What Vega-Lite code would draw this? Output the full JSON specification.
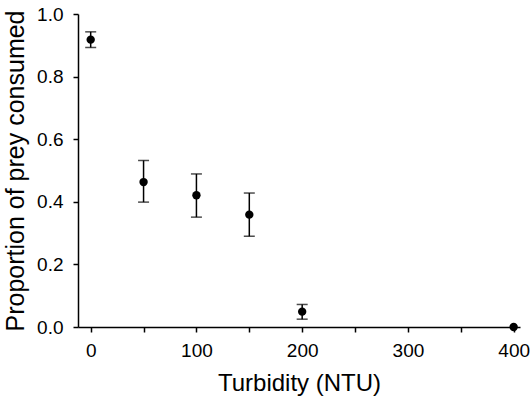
{
  "$schema": "https://vega.github.io/schema/vega-lite/v6.json",
  "autosize": "none",
  "width": 442,
  "height": 313,
  "padding": {"left": 78, "top": 14, "right": 10, "bottom": 78},
  "background": "white",
  "config": {
    "view": {"stroke": null},
    "font": "Liberation Sans",
    "axis": {
      "grid": false,
      "domainColor": "black",
      "domainWidth": 1.5,
      "tickColor": "black",
      "tickWidth": 1.5,
      "tickSize": 5,
      "labelColor": "black",
      "titleColor": "black",
      "labelFont": "Liberation Sans",
      "titleFont": "Liberation Sans",
      "labelFontSize": 19,
      "titleFontSize": 25,
      "titleFontWeight": "normal"
    }
  },
  "data": {
    "values": [
      {"turbidity": 0, "prop": 0.918, "lo": 0.893, "hi": 0.943},
      {"turbidity": 50, "prop": 0.463, "lo": 0.399, "hi": 0.532},
      {"turbidity": 100, "prop": 0.421, "lo": 0.351, "hi": 0.489},
      {"turbidity": 150, "prop": 0.359, "lo": 0.29, "hi": 0.428},
      {"turbidity": 200, "prop": 0.049, "lo": 0.025, "hi": 0.072},
      {"turbidity": 400, "prop": 0.0, "lo": 0.0, "hi": 0.0}
    ]
  },
  "encoding": {
    "x": {
      "field": "turbidity",
      "type": "quantitative",
      "scale": {"domain": [-12, 406], "nice": false, "zero": false},
      "axis": {
        "title": "Turbidity (NTU)",
        "titleFontSize": 24,
        "values": [0, 50, 100, 150, 200, 250, 300, 350, 400],
        "labelExpr": "datum.value % 100 === 0 ? datum.label : ''",
        "labelPadding": 9,
        "titlePadding": 11
      }
    }
  },
  "layer": [
    {
      "transform": [{"filter": "datum.hi > datum.lo"}],
      "mark": {"type": "rule", "color": "black", "strokeWidth": 1.5},
      "encoding": {
        "y": {"field": "lo", "type": "quantitative"},
        "y2": {"field": "hi"}
      }
    },
    {
      "transform": [{"filter": "datum.hi > datum.lo"}],
      "mark": {"type": "tick", "orient": "horizontal", "color": "black", "size": 11, "thickness": 1.5},
      "encoding": {
        "y": {"field": "lo", "type": "quantitative"}
      }
    },
    {
      "transform": [{"filter": "datum.hi > datum.lo"}],
      "mark": {"type": "tick", "orient": "horizontal", "color": "black", "size": 11, "thickness": 1.5},
      "encoding": {
        "y": {"field": "hi", "type": "quantitative"}
      }
    },
    {
      "mark": {"type": "point", "filled": true, "color": "black", "opacity": 1, "size": 70, "clip": false},
      "encoding": {
        "y": {
          "field": "prop",
          "type": "quantitative",
          "scale": {"domain": [0, 1], "nice": false},
          "axis": {
            "title": "Proportion of prey consumed",
            "values": [0, 0.2, 0.4, 0.6, 0.8, 1.0],
            "format": ".1f",
            "labelPadding": 10,
            "titlePadding": 8
          }
        }
      }
    }
  ]
}
